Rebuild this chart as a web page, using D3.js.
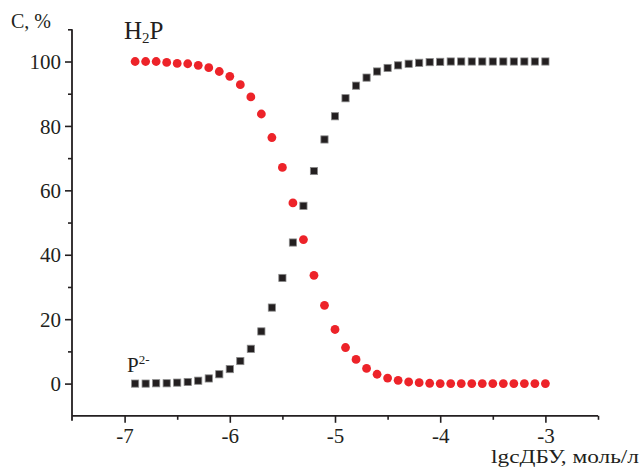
<!DOCTYPE html>
<html>
<head>
<meta charset="utf-8">
<script src="https://cdn.jsdelivr.net/npm/d3@7/dist/d3.min.js"></script>
<style>
  html, body { margin: 0; padding: 0; background: #fff; }
  svg { display: block; }
  text { font-family: "Liberation Serif", "DejaVu Serif", serif; fill: #231f20; }
</style>
</head>
<body>
<script>
// lg c(DBU), mol/L
const lgC = d3.range(40).map(i => +(-6.9 + i * 0.1).toFixed(1));

// H2P fraction, %
const h2p = [100, 100, 100, 99.7, 99.4, 99.3, 98.8, 98.1, 96.9, 95.4,
             92.8, 89.0, 83.7, 76.4, 67.1, 56.1, 44.7, 33.6, 24.3, 16.8,
             11.2, 7.5, 4.7, 2.9, 1.7, 1.0, 0.5, 0.3, 0.1, 0,
             0, 0, 0, 0, 0, 0, 0, 0, 0, 0];

// P2- fraction, %
const p2 = [0, 0, 0.1, 0.1, 0.3, 0.5, 0.9, 1.6, 2.9, 4.5,
            7.0, 10.8, 16.2, 23.6, 32.8, 43.8, 55.2, 66.0, 75.8, 83.0,
            88.6, 92.5, 95.0, 96.9, 98.0, 98.8, 99.3, 99.6, 99.8, 99.9,
            100, 100, 100, 100, 100, 100, 100, 100, 100, 100];

const xTicks = [-7, -6, -5, -4, -3];
const xMinor = [-6.5, -5.5, -4.5, -3.5, -2.5];
const yTicks = [0, 20, 40, 60, 80, 100];
const yMinor = [10, 30, 50, 70, 90, 110];

const W = 643, H = 474;
const axisColor = "#231f20";
const serif = '"Liberation Serif", "DejaVu Serif", serif';

const svg = d3.select("body").append("svg").attr("width", W).attr("height", H);

const x = d3.scaleLinear().domain([-7.5, -2.5]).range([72, 598]);
const y = d3.scaleLinear().domain([-10, 110]).range([415.8, 29.3]);

// axes
const xAxis = d3.axisBottom(x).tickValues(xTicks).tickSize(7).tickPadding(4)
  .tickFormat(d => String(d).replace("\u2212", "-"));
const gx = svg.append("g").attr("transform", `translate(0,${y(-10)})`).call(xAxis);
const gxm = svg.append("g").attr("transform", `translate(0,${y(-10)})`)
  .call(d3.axisBottom(x).tickValues(xMinor).tickSize(4).tickFormat(""));
gxm.select(".domain").remove();

const yAxis = d3.axisLeft(y).tickValues(yTicks).tickSize(7).tickPadding(4);
const gy = svg.append("g").attr("transform", `translate(${x(-7.5)},0)`).call(yAxis);
const gym = svg.append("g").attr("transform", `translate(${x(-7.5)},0)`)
  .call(d3.axisLeft(y).tickValues(yMinor).tickSize(4).tickFormat(""));
gym.select(".domain").remove();

[gx, gy, gxm, gym].forEach(g => {
  g.attr("font-family", serif);
  g.selectAll("path.domain").attr("stroke", axisColor).attr("stroke-width", 1.8);
  g.selectAll(".tick line").attr("stroke", axisColor).attr("stroke-width", 1.6);
  g.selectAll(".tick text").attr("font-size", 21).style("font-size", "21px")
    .attr("font-family", serif).attr("fill", axisColor);
});
// plain axis lines without the outer end ticks
gx.select("path.domain").attr("d", `M${x(-7.5)},0H${x(-2.5)}`);
gy.select("path.domain").attr("d", `M0,${y(110)}V${y(-10) + 5}`);
gx.selectAll(".tick text").attr("dy", "0.76em");
gy.selectAll(".tick text").attr("dy", "0.34em");

// P2- squares
const sq = 7.2;
svg.append("g").selectAll("rect").data(lgC.map((v, i) => [v, p2[i]])).join("rect")
  .attr("x", d => x(d[0]) - sq / 2)
  .attr("y", d => y(d[1]) - sq / 2)
  .attr("width", sq).attr("height", sq)
  .attr("fill", "#231f20").attr("stroke", "#8a8a8a").attr("stroke-width", 0.8);

// H2P circles
svg.append("g").selectAll("circle").data(lgC.map((v, i) => [v, h2p[i]])).join("circle")
  .attr("cx", d => x(d[0]))
  .attr("cy", d => y(d[1]))
  .attr("r", 4.4)
  .attr("fill", "#ed2329");

// axis titles
svg.append("text").attr("x", 11).attr("y", 28).attr("font-family", serif)
  .style("font-size", "20px").text("C, %");

svg.append("text").attr("x", 491).attr("y", 463).attr("font-family", serif)
  .style("font-size", "19.5px")
  .attr("textLength", 148).attr("lengthAdjust", "spacingAndGlyphs")
  .text("lgcДБУ, моль/л");

// curve labels
const h2 = svg.append("text").attr("x", 124).attr("y", 39).attr("font-family", serif)
  .style("font-size", "25px");
h2.append("tspan").text("H");
h2.append("tspan").attr("dy", 4).style("font-size", "15px").text("2");
h2.append("tspan").attr("dy", -4).text("P");

const pl = svg.append("text").attr("x", 127).attr("y", 372).attr("font-family", serif)
  .style("font-size", "21px");
pl.append("tspan").text("P");
pl.append("tspan").attr("dy", -8).style("font-size", "13px").text("2-");
</script>
</body>
</html>
